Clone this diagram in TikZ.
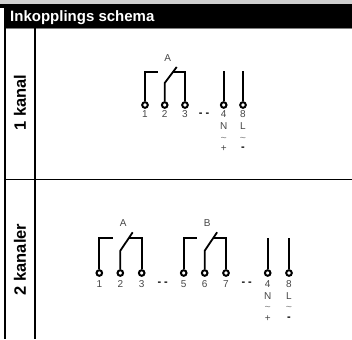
\documentclass[tikz,border=0pt]{standalone}
\usepackage{fontspec}
\setmainfont{Liberation Sans}
\usetikzlibrary{positioning}
\definecolor{bandGray}{RGB}{208, 208, 208}
\definecolor{labelGray}{RGB}{70, 70, 70}

\begin{document}
\begin{tikzpicture}[
        x=1pt, y=-1pt,
        on grid,
        terminal/.style={circle, draw=black, fill=white, line width=2pt, inner sep=0pt, minimum size=5.6pt},
        wire/.style={line width=1.8pt, black, line join=miter},
        pin/.style={font=\fontsize{10}{10}\selectfont, text=labelGray, inner sep=0pt},
        acmark/.style={font=\fontsize{10.5}{10.5}\selectfont, text=gray, inner sep=0pt},
        sep/.style={font=\fontsize{11}{11}\bfseries\selectfont, inner sep=0pt},
        rowtitle/.style={rotate=90, font=\fontsize{16.5}{17}\bfseries\selectfont, inner sep=0pt}
    ]
        \useasboundingbox (0,0) rectangle (352,339);
        % Frame
        \fill[bandGray] (0,0) rectangle (352,4);
        \fill[black] (0,4) rectangle (352,8);
        \fill[black] (4,8) rectangle (352,28);
        \fill[gray] (5,28) rectangle (352,29);
        \fill[black] (4,28) rectangle (6,339);
        \fill[black] (33.5,28) rectangle (36,339);
        \fill[black] (5,178.7) rectangle (352,179.7);
        \node[anchor=west, text=white, inner sep=0pt, font=\fontsize{15}{15}\bfseries\selectfont] (title) at (10,18) {Inkopplings schema};
        \node[rowtitle] (row1) at (20,102.5) {1 kanal};
        \node[rowtitle] (row2) at (20,259.5) {2 kanaler};

        % One channel
        \node[terminal] (p1) at (145,105) {};
        \node[terminal, right=19.7pt of p1] (p2) {};
        \node[terminal, right=20.3pt of p2] (p3) {};
        \node[terminal, right=38.7pt of p3] (p4) {};
        \node[terminal, right=19.3pt of p4] (p8) {};
        \coordinate[above=33pt of p1] (p1k);
        \coordinate[right=12.7pt of p1k] (p1e);
        \coordinate[above=22pt of p2] (p2k);
        \coordinate[above=38pt of p2, xshift=12pt] (p2e);
        \coordinate[above=33pt of p3] (p3k);
        \coordinate[left=12pt of p3k] (p3e);
        \coordinate[above=34pt of p4] (p4k);
        \coordinate[above=34pt of p8] (p8k);
        \draw[wire] (p1) -- (p1k) -- (p1e);
        \draw[wire] (p2) -- (p2k) -- (p2e);
        \draw[wire] (p3) -- (p3k) -- (p3e);
        \draw[wire] (p4) -- (p4k);
        \draw[wire] (p8) -- (p8k);
        \node[pin, below=9.5pt of p1] (n1) {1};
        \node[pin, below=9.5pt of p2] (n2) {2};
        \node[pin, below=9.5pt of p3] (n3) {3};
        \node[pin, below=9.5pt of p4] (n4) {4};
        \node[pin, below=9.5pt of p8] (n8) {8};
        \node[pin, below=12pt of n4] (nN) {N};
        \node[pin, below=12pt of n8] (nL) {L};
        \node[acmark, below=12.5pt of nN] (acN) {\textasciitilde};
        \node[acmark, below=12.5pt of nL] (acL) {\textasciitilde};
        \node[pin, below=10pt of acN] (plus) {+};
        \node[sep, below=10pt of acL] (minus) {-};
        \node[sep, right=19pt of n3] (gap) {- -};
        \node[pin] (nameA) at (167.7,58) {A};

        % Two channels
        \node[terminal] (q1) at (99.3,273) {};
        \node[terminal, right=21pt of q1] (q2) {};
        \node[terminal, right=21.4pt of q2] (q3) {};
        \node[terminal, right=42pt of q3] (q5) {};
        \node[terminal, right=21pt of q5] (q6) {};
        \node[terminal, right=21.3pt of q6] (q7) {};
        \node[terminal, right=41.7pt of q7] (q4) {};
        \node[terminal, right=21.3pt of q4] (q8) {};
        \coordinate[above=35.3pt of q1] (q1k);
        \coordinate[right=13.4pt of q1k] (q1e);
        \coordinate[above=22.3pt of q2] (q2k);
        \coordinate[above=40.7pt of q2, xshift=12.4pt] (q2e);
        \coordinate[above=35.3pt of q3] (q3k);
        \coordinate[left=12.7pt of q3k] (q3e);
        \coordinate[above=35.3pt of q5] (q5k);
        \coordinate[right=13.3pt of q5k] (q5e);
        \coordinate[above=22.3pt of q6] (q6k);
        \coordinate[above=40.7pt of q6, xshift=12.4pt] (q6e);
        \coordinate[above=35.3pt of q7] (q7k);
        \coordinate[left=12pt of q7k] (q7e);
        \coordinate[above=35.3pt of q4] (q4k);
        \coordinate[above=35.3pt of q8] (q8k);
        \draw[wire] (q1) -- (q1k) -- (q1e);
        \draw[wire] (q2) -- (q2k) -- (q2e);
        \draw[wire] (q3) -- (q3k) -- (q3e);
        \draw[wire] (q5) -- (q5k) -- (q5e);
        \draw[wire] (q6) -- (q6k) -- (q6e);
        \draw[wire] (q7) -- (q7k) -- (q7e);
        \draw[wire] (q4) -- (q4k);
        \draw[wire] (q8) -- (q8k);
        \node[pin, below=11pt of q1] (m1) {1};
        \node[pin, below=11pt of q2] (m2) {2};
        \node[pin, below=11pt of q3] (m3) {3};
        \node[pin, below=11pt of q5] (m5) {5};
        \node[pin, below=11pt of q6] (m6) {6};
        \node[pin, below=11pt of q7] (m7) {7};
        \node[pin, below=11pt of q4] (m4) {4};
        \node[pin, below=11pt of q8] (m8) {8};
        \node[pin, below=12pt of m4] (mN) {N};
        \node[pin, below=12pt of m8] (mL) {L};
        \node[acmark, below=12.5pt of mN] (bcN) {\textasciitilde};
        \node[acmark, below=12.5pt of mL] (bcL) {\textasciitilde};
        \node[pin, below=10pt of bcN] (mplus) {+};
        \node[sep, below=10pt of bcL] (mminus) {-};
        \node[sep, right=21pt of m3] (gapa) {- -};
        \node[sep, right=20.7pt of m7] (gapb) {- -};
        \node[pin] (nameB1) at (123.3,222.7) {A};
        \node[pin] (nameB2) at (207.3,222.7) {B};
    \end{tikzpicture}
\end{document}
